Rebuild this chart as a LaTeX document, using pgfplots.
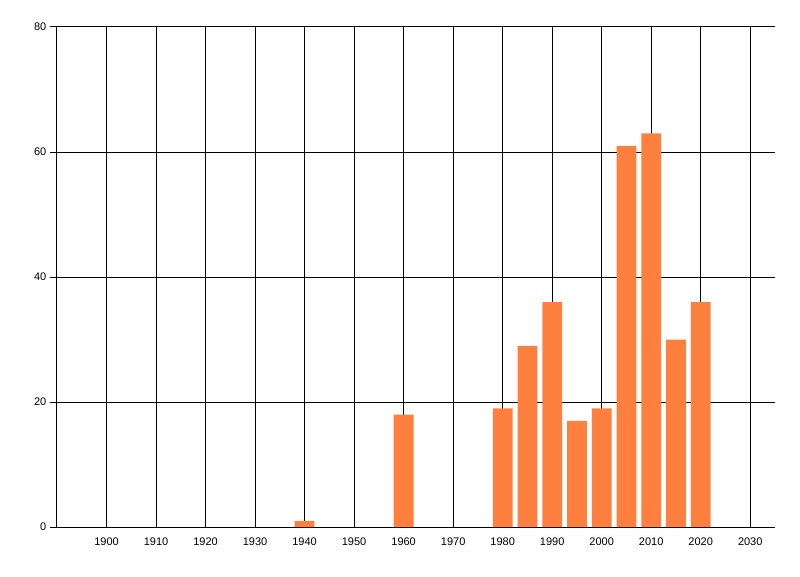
\documentclass[border=0pt]{standalone}
\usepackage{pgfplots}
\pgfplotsset{compat=1.18}
\usepackage{fontspec}
\setmainfont{Liberation Sans}
\definecolor{barorange}{RGB}{255,127,63}
\begin{document}
\begin{tikzpicture}[x=0.75pt,y=0.75pt]
\begin{axis}[
    name=main,
    at={(0,0)}, anchor=south west,
    scale only axis,
    width=538.5pt, height=375pt,
    xmin=1890, xmax=2035,
    ymin=0, ymax=80,
    xtick={1900,1910,...,2030},
    ytick={0,20,...,80},
    xticklabel style={/pgf/number format/1000 sep={}},
    /pgf/number format/assume math mode=true,
    ticklabel style={font=\fontsize{8.25}{10}\selectfont, text=black},
    axis x line=bottom, axis y line=left,
    axis line style={-, black, line width=0.75pt},
    x axis line style={-}, y axis line style={-},
    grid=major,
    major grid style={black, line width=0.75pt},
    xtick style={draw=none},
    ytick style={black, line width=0.75pt},
    tick align=outside,
    major tick length=5.5pt,
    xticklabel shift=-1pt,
    yticklabel shift=-1pt,
    ybar, bar width=4, bar shift=0pt,
]
\addplot[fill=barorange, draw=none] coordinates {
    (1940,1) (1960,18) (1980,19) (1985,29) (1990,36) (1995,17)
    (2000,19) (2005,61) (2010,63) (2015,30) (2020,36)
};
\end{axis}
\path (main.south west) ++(-42.75pt,-36.75pt) rectangle ++(600pt,432pt);
\end{tikzpicture}
\end{document}
